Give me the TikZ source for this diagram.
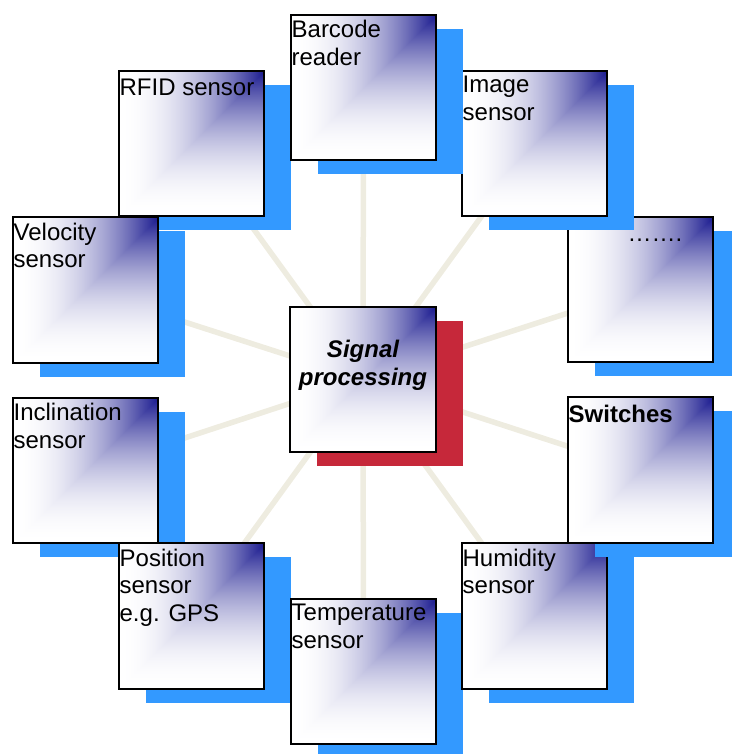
\documentclass[tikz,border=0pt]{standalone}
\usepackage{fontspec}
\setmainfont{Liberation Sans}
\usetikzlibrary{shadows,backgrounds}
\definecolor{shblue}{RGB}{51,153,255}
\definecolor{shred}{RGB}{198,40,58}
\definecolor{spokecol}{RGB}{238,236,224}
% white in the lower left corner, dark blue in the upper right one
\pgfdeclarefunctionalshading{cornerblue}{\pgfpoint{-50bp}{-50bp}}{\pgfpoint{50bp}{50bp}}{}{
  2 copy gt {exch} if pop
  25 add 50 div
  dup 0 lt {pop 0} if dup 1 gt {pop 1} if
  dup mul
  dup 0.9 mul 1 exch sub exch
  dup 0.9 mul 1 exch sub exch
  0.44 mul 1 exch sub
}
\newcommand{\lblfont}{\fontsize{24}{27.5}\selectfont}

\begin{document}
\begin{tikzpicture}[x=1pt,y=-1pt,
                    box/.style={draw=black, line width=1.6pt, minimum size=145.5pt, inner sep=0pt, shade, shading=cornerblue},
                    sensor/.style={box, drop shadow={shadow xshift=27pt, shadow yshift=-14pt, fill=shblue, opacity=1}},
                    core/.style={box, drop shadow={shadow xshift=27pt, shadow yshift=-14pt, fill=shred, opacity=1}},
                    lbl/.style={anchor=north west, inner sep=1.5pt, yshift=-4.75pt, font=\lblfont, align=left, execute at begin node=\strut},
                    corelbl/.style={anchor=north, inner sep=1.5pt, yshift=-32.6pt, font=\lblfont\bfseries\itshape, align=center, execute at begin node=\strut},
                    spoke/.style={line width=5.5pt, spokecol},
                   ]

\useasboundingbox (0,0) rectangle (731,754);

\node[sensor] (rfid) at (191.5,143.5) {};
\node[sensor] (vel)  at (85.5,290) {};
\node[sensor] (incl) at (85.5,470.5) {};
\node[sensor] (pos)  at (191.5,616) {};
\node[sensor] (temp) at (363.5,671.5) {};
\node[sensor] (hum)  at (534.5,616) {};
\node[sensor] (sw)   at (640.5,470) {};
\node[sensor] (dots) at (640.5,289.5) {};
\node[sensor] (img)  at (534.5,143.5) {};
\node[sensor] (bar)  at (363.5,87.5) {};
\node[core]   (sig)  at (363,379.5) {};

\begin{scope}[on background layer]
\foreach \s in {bar,rfid,img,vel,dots,incl,sw,pos,hum,temp}
  \draw[spoke] (sig.center) -- (\s.center);
\end{scope}

\node[lbl] (rfidtxt) at (rfid.north west) {RFID sensor};
\node[lbl] (veltxt)  at (vel.north west)  {Velocity\\sensor};
\node[lbl] (incltxt) at (incl.north west) {Inclination\\sensor};
\node[lbl] (postxt)  at (pos.north west)  {Position\\sensor\\e.g. GPS};
\node[lbl] (temptxt) at (temp.north west) {Temperature\\sensor};
\node[lbl] (humtxt)  at (hum.north west)  {Humidity\\sensor};
\node[lbl, font=\lblfont\bfseries] (swtxt) at (sw.north west) {Switches};
\node[lbl, xshift=59pt] (dotstxt) at (dots.north west) {…….};
\node[lbl] (imgtxt)  at (img.north west)  {Image\\sensor};
\node[lbl] (bartxt)  at (bar.north west)  {Barcode\\reader};
\node[corelbl] (sigtxt) at (sig.north) {Signal\\processing};

\end{tikzpicture}
\end{document}
